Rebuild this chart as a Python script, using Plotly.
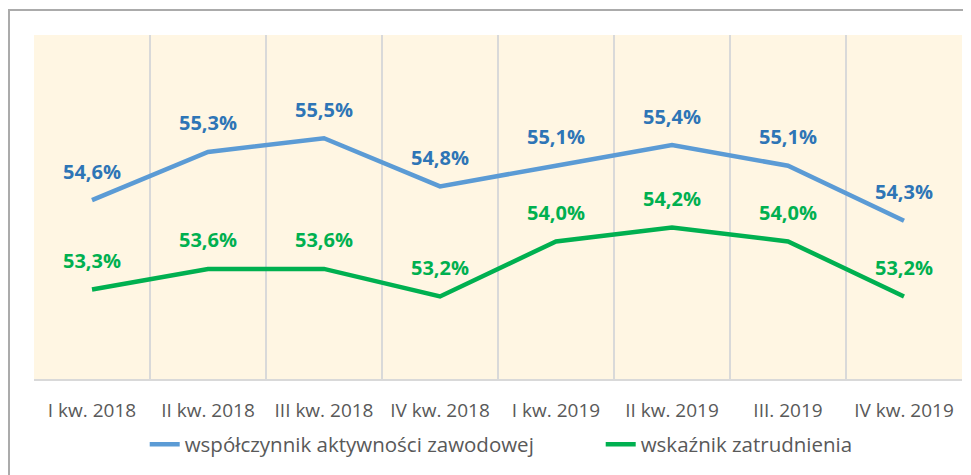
import plotly.graph_objects as go

categories = ["I kw. 2018", "II kw. 2018", "III kw. 2018", "IV kw. 2018",
              "I kw. 2019", "II kw. 2019", "III. 2019", "IV kw. 2019"]
aktywnosc = [54.6, 55.3, 55.5, 54.8, 55.1, 55.4, 55.1, 54.3]
zatrudnienie = [53.3, 53.6, 53.6, 53.2, 54.0, 54.2, 54.0, 53.2]

name_a = "współczynnik aktywności zawodowej"
name_z = "wskaźnik zatrudnienia"

blue_line = "#5B9BD5"
blue_text = "#2E75B6"
green = "#00B050"
grey_text = "#595959"

fig = go.Figure()
fig.add_trace(go.Scatter(x=categories, y=aktywnosc, mode="lines", name=name_a,
                         line=dict(color=blue_line, width=4.5)))
fig.add_trace(go.Scatter(x=categories, y=zatrudnienie, mode="lines", name=name_z,
                         line=dict(color=green, width=4.5)))

def fmt(v):
    return f"{v:.1f}%".replace(".", ",")

annotations = []
for c, v in zip(categories, aktywnosc):
    annotations.append(dict(x=c, y=v, text=fmt(v), showarrow=False, yshift=29,
                            font=dict(family="Open Sans", size=20, color=blue_text, weight="bold")))
for c, v in zip(categories, zatrudnienie):
    annotations.append(dict(x=c, y=v, text=fmt(v), showarrow=False, yshift=29,
                            font=dict(family="Open Sans", size=20, color=green, weight="bold")))

fig.update_layout(
    width=963, height=467,
    margin=dict(l=26, r=9, t=27, b=96, pad=0, autoexpand=False),
    paper_bgcolor="white",
    plot_bgcolor="#FFF6E3",
    showlegend=True,
    legend=dict(orientation="h", x=0.1193, xanchor="left", y=-0.19, yanchor="middle",
                font=dict(family="Open Sans", size=20.5, color=grey_text),
                itemwidth=30, tracegroupgap=0, entrywidth=411, entrywidthmode="pixels"),
    annotations=annotations,
    xaxis=dict(type="category", range=[-0.5, 7.5], showgrid=True, tickson="boundaries",
               gridcolor="#D9D9D9", gridwidth=1.5, showline=True, linecolor="#D9D9D9",
               linewidth=1.5, ticks="", ticklabelstandoff=13, automargin=False,
               tickfont=dict(family="Open Sans", size=19, color=grey_text),
               zeroline=False, fixedrange=True),
    yaxis=dict(range=[52, 57], showgrid=False, showticklabels=False, zeroline=False,
               showline=False, fixedrange=True, automargin=False),
    shapes=[dict(type="rect", xref="paper", yref="paper",
                 x0=-0.02694, x1=1.2, y0=-0.5, y1=1.0727,
                 line=dict(color="#ABABAB", width=2), layer="below")],
)

fig.write_html("out.html")
